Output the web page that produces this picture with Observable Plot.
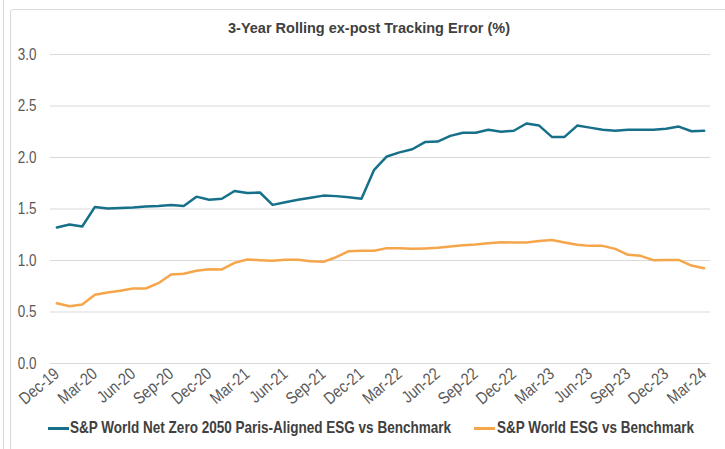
<!DOCTYPE html>
<html><head><meta charset="utf-8">
<script src="https://cdn.jsdelivr.net/npm/d3@7"></script>
<script src="https://cdn.jsdelivr.net/npm/@observablehq/plot@0.6"></script>
<style>
body{margin:0;width:725px;height:449px;overflow:hidden;background:#fff;position:relative;font-family:"Liberation Sans",Arial,sans-serif;}
#vline{position:absolute;left:3px;top:0;width:1px;height:449px;background:#d9d9d9}
#box{position:absolute;left:10px;top:9px;width:800px;height:600px;border:1px solid #d9d9d9;border-radius:3px}
#title{position:absolute;top:19px;left:0;width:725px;height:20px;font-weight:bold;font-size:15px;color:#404040}
#title span{position:absolute;white-space:nowrap;transform-origin:0 0}
#chart{position:absolute;left:0;top:40px}
#legend{position:absolute;top:418px;left:0;width:725px;height:20px;font-weight:bold;font-size:16.5px;color:#404040}
.sw{position:absolute;top:9px;width:21px;height:3px}
.lt{position:absolute;top:0;white-space:nowrap;transform-origin:0 0}
</style></head>
<body>
<div id="vline"></div>
<div id="box"></div>
<div id="title"><span>3-Year Rolling ex-post Tracking Error (%)</span></div>
<div id="chart"></div>
<div id="legend"></div>
<script>
const months = ["Dec-19","Jan-20","Feb-20","Mar-20","Apr-20","May-20","Jun-20","Jul-20","Aug-20","Sep-20","Oct-20","Nov-20",
"Dec-20","Jan-21","Feb-21","Mar-21","Apr-21","May-21","Jun-21","Jul-21","Aug-21","Sep-21","Oct-21","Nov-21",
"Dec-21","Jan-22","Feb-22","Mar-22","Apr-22","May-22","Jun-22","Jul-22","Aug-22","Sep-22","Oct-22","Nov-22",
"Dec-22","Jan-23","Feb-23","Mar-23","Apr-23","May-23","Jun-23","Jul-23","Aug-23","Sep-23","Oct-23","Nov-23",
"Dec-23","Jan-24","Feb-24","Mar-24"];
const tickLabels = ["Dec-19","Mar-20","Jun-20","Sep-20","Dec-20","Mar-21","Jun-21","Sep-21","Dec-21","Mar-22","Jun-22","Sep-22","Dec-22","Mar-23","Jun-23","Sep-23","Dec-23","Mar-24"];
const yTicks = [0,0.5,1,1.5,2,2.5,3];
const seriesNames = ["S&P World Net Zero 2050 Paris-Aligned ESG vs Benchmark","S&P World ESG vs Benchmark"];
const seriesColors = ["#16708a","#f5a64a"];
const netZero = [1.32,1.35,1.33,1.52,1.505,1.51,1.515,1.525,1.53,1.54,1.53,1.62,1.59,1.60,1.675,1.655,1.66,1.54,1.565,1.59,1.61,1.63,1.625,1.615,1.60,1.88,2.01,2.05,2.08,2.15,2.155,2.21,2.24,2.24,2.27,2.25,2.26,2.33,2.31,2.20,2.20,2.31,2.29,2.27,2.26,2.27,2.27,2.27,2.28,2.30,2.255,2.26];
const esg = [0.585,0.556,0.573,0.667,0.689,0.706,0.728,0.728,0.78,0.864,0.871,0.90,0.916,0.913,0.977,1.01,1.003,0.997,1.007,1.007,0.993,0.987,1.032,1.09,1.094,1.094,1.12,1.12,1.113,1.117,1.123,1.136,1.149,1.155,1.168,1.178,1.175,1.175,1.19,1.20,1.175,1.152,1.142,1.142,1.113,1.055,1.045,1.003,1.006,1.006,0.951,0.925];

const data = [];
months.forEach((m,i)=>{ data.push({month:m, value:netZero[i], series:seriesNames[0]}); });
months.forEach((m,i)=>{ data.push({month:m, value:esg[i], series:seriesNames[1]}); });

const chart = Plot.plot({
  width:725, height:370,
  marginTop:14, marginBottom:47, marginLeft:50, marginRight:15,
  style:{fontFamily:'"Liberation Sans",Arial,sans-serif', fontSize:"16px", color:"#595959", background:"transparent", overflow:"visible"},
  x:{type:"point", domain:months, padding:0.5},
  y:{domain:[0,3]},
  color:{domain:seriesNames, range:seriesColors},
  marks:[
    Plot.ruleY(yTicks,{stroke:"#d9d9d9", strokeWidth:1}),
    Plot.axisY({ticks:yTicks, tickFormat:d=>d.toFixed(1), tickSize:0, tickPadding:14, label:null, fill:"#595959"}),
    Plot.axisX({ticks:tickLabels, tickRotate:-40, tickSize:0, tickPadding:8, label:null, fill:"#595959"}),
    Plot.line(data,{x:"month", y:"value", stroke:"series", strokeWidth:2.5, curve:"linear"})
  ]
});
document.getElementById("chart").appendChild(chart);

// condense tick label glyphs horizontally (narrow font look)
chart.querySelectorAll("text").forEach(t=>{
  const tr = t.getAttribute("transform");
  if (tr) {
    if (tr.includes("rotate")) t.style.fontSize = "17px";
    t.setAttribute("transform", tr + " scale(0.84,1)");
  } else {
    const x = +(t.getAttribute("x")||0), y = +(t.getAttribute("y")||0);
    t.removeAttribute("x"); t.removeAttribute("y");
    t.setAttribute("transform", `translate(${x},${y}) scale(0.84,1)`);
  }
});

function fit(el, left, width){
  const w = el.getBoundingClientRect().width;
  const s = width / w;
  el.style.left = left + "px";
  el.style.transform = `scaleX(${s})`;
}
fit(document.querySelector("#title span"), 228, 282);

const legend = document.getElementById("legend");
const lay = [{sw:48, tx:70, tw:381},{sw:474, tx:497, tw:197}];
seriesNames.forEach((n,i)=>{
  const sw = document.createElement("div");
  sw.className = "sw"; sw.style.left = lay[i].sw + "px"; sw.style.background = seriesColors[i];
  legend.appendChild(sw);
  const tx = document.createElement("div");
  tx.className = "lt"; tx.textContent = n;
  legend.appendChild(tx);
  fit(tx, lay[i].tx, lay[i].tw);
});
</script>
</body></html>
